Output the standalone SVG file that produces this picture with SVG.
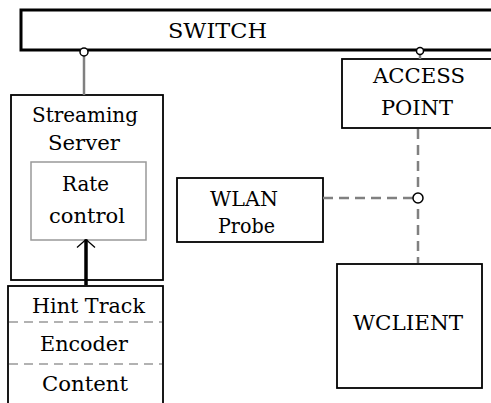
<svg xmlns="http://www.w3.org/2000/svg" width="491" height="403" viewBox="0 0 491 403">
<style>
.bx{fill:#fff;stroke:#000;stroke-width:1.8}
.t{font-family:"DejaVu Serif","Liberation Serif",serif;font-size:21px;fill:#000;text-anchor:middle}
.gl{stroke:#808080;stroke-width:2.5;fill:none}
.dl{stroke:#808080;stroke-width:2.5;fill:none;stroke-dasharray:10 6}
.sep{stroke:#999;stroke-width:1.5;fill:none;stroke-dasharray:9 6}
.pt{fill:#fff;stroke:#000;stroke-width:1.5}
</style>
<defs>
<marker id="ah" viewBox="0 0 10 20" refX="9" refY="10" markerWidth="10" markerHeight="20" markerUnits="userSpaceOnUse" orient="auto">
<path d="M1,1 L9,10 L1,19" fill="none" stroke="#000" stroke-width="1.3"/>
</marker>
</defs>
<rect width="491" height="403" fill="#fff"/>
<g id="switch">
<rect x="21" y="10" width="480" height="40" fill="#fff" stroke="#000" stroke-width="3"/>
<text class="t" x="217.5" y="38" textLength="99" lengthAdjust="spacingAndGlyphs">SWITCH</text>
</g>
<g id="streaming-server">
<rect class="bx" x="11" y="95" width="152" height="185"/>
<text class="t" x="85" y="122" textLength="106" lengthAdjust="spacingAndGlyphs">Streaming</text>
<text class="t" x="84" y="150" textLength="72" lengthAdjust="spacingAndGlyphs">Server</text>
</g>
<g id="rate-control">
<rect x="31" y="162" width="115" height="78" fill="#fff" stroke="#999" stroke-width="1.5"/>
<text class="t" x="85.5" y="191" textLength="47" lengthAdjust="spacingAndGlyphs">Rate</text>
<text class="t" x="87" y="223" textLength="76" lengthAdjust="spacingAndGlyphs">control</text>
</g>
<g id="content-stack">
<rect class="bx" x="8" y="286" width="155" height="130"/>
<line class="sep" x1="9" y1="322" x2="162" y2="322"/>
<line class="sep" x1="9" y1="364" x2="162" y2="364"/>
<text class="t" x="88.5" y="313" textLength="113" lengthAdjust="spacingAndGlyphs">Hint Track</text>
<text class="t" x="84" y="351" textLength="88" lengthAdjust="spacingAndGlyphs">Encoder</text>
<text class="t" x="85" y="391" textLength="86" lengthAdjust="spacingAndGlyphs">Content</text>
</g>
<g id="access-point">
<rect class="bx" x="342" y="59" width="160" height="69"/>
<text class="t" x="419" y="83" textLength="92" lengthAdjust="spacingAndGlyphs">ACCESS</text>
<text class="t" x="417" y="115" textLength="72" lengthAdjust="spacingAndGlyphs">POINT</text>
</g>
<g id="wlan-probe">
<rect class="bx" x="177" y="178" width="146" height="64"/>
<text class="t" x="244" y="206" textLength="68" lengthAdjust="spacingAndGlyphs">WLAN</text>
<text class="t" x="246.5" y="233" textLength="57" lengthAdjust="spacingAndGlyphs">Probe</text>
</g>
<g id="wclient">
<rect class="bx" x="337" y="264" width="145" height="124"/>
<text class="t" x="408" y="330" textLength="110" lengthAdjust="spacingAndGlyphs">WCLIENT</text>
</g>
<g id="connectors">
<line class="gl" x1="84" y1="53" x2="84" y2="95"/>
<line class="gl" x1="420" y1="52" x2="420" y2="59"/>
<line class="dl" x1="418" y1="129" x2="418" y2="263"/>
<line class="dl" x1="323" y1="198" x2="413" y2="198"/>
<line x1="86" y1="285" x2="86" y2="239.5" stroke="#000" stroke-width="3.5" marker-end="url(#ah)"/>
</g>
<g id="ports">
<circle class="pt" cx="84" cy="52" r="4"/>
<circle class="pt" cx="420" cy="51" r="3.5"/>
<circle class="pt" cx="418" cy="198" r="5"/>
</g>
</svg>
